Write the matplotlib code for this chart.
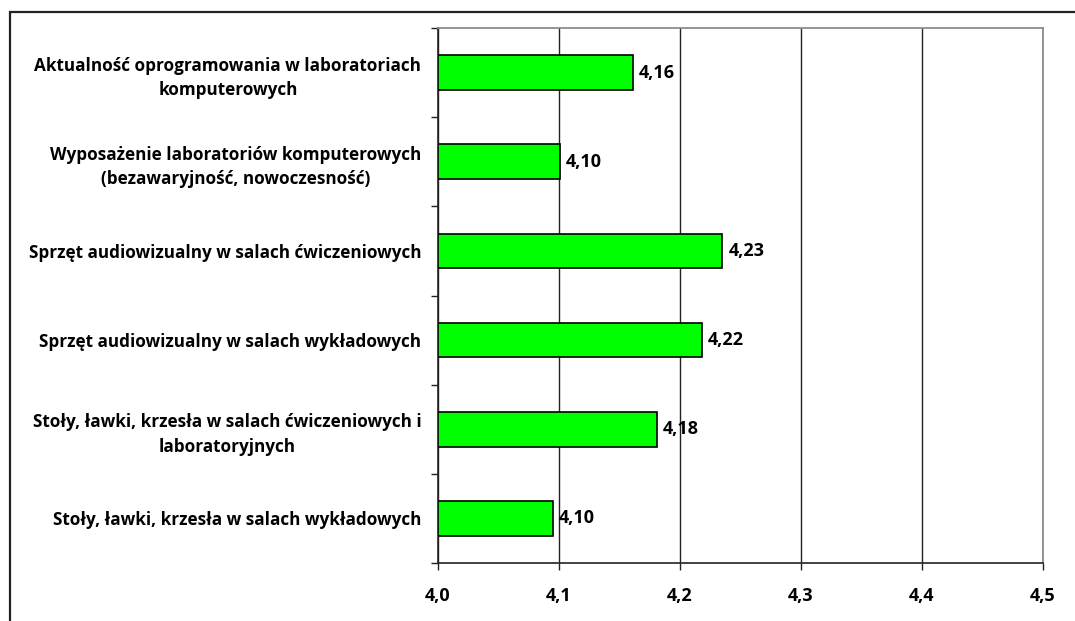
import matplotlib
matplotlib.use('Agg')
import matplotlib.pyplot as plt
from matplotlib.patches import Rectangle

# Categories listed top to bottom as in the chart
categories = [
    'Aktualność oprogramowania w laboratoriach\nkomputerowych',
    'Wyposażenie laboratoriów komputerowych\n(bezawaryjność, nowoczesność)',
    'Sprzęt audiowizualny w salach ćwiczeniowych',
    'Sprzęt audiowizualny w salach wykładowych',
    'Stoły, ławki, krzesła w salach ćwiczeniowych i\nlaboratoryjnych',
    'Stoły, ławki, krzesła w salach wykładowych',
]
values = [4.161, 4.101, 4.235, 4.218, 4.181, 4.095]
value_labels = ['4,16', '4,10', '4,23', '4,22', '4,18', '4,10']
x_ticks = [4.0, 4.1, 4.2, 4.3, 4.4, 4.5]
x_tick_labels = ['4,0', '4,1', '4,2', '4,3', '4,4', '4,5']

plt.rcParams['font.family'] = ['Open Sans', 'DejaVu Sans']
plt.rcParams['font.weight'] = 'bold'
FS_CAT = 12.3
FS_VAL = 13

fig = plt.figure(figsize=(10.75, 6.21), dpi=100)
ax = fig.add_axes([0.4074, 0.0934, 0.5628, 0.8615])

n = len(categories)
pos = list(range(n))[::-1]
base = x_ticks[0]
ax.barh(pos, [v - base for v in values], left=base, height=0.39,
        color='#00FF00', edgecolor='black', linewidth=1.2, zorder=3)

for p, v, lab in zip(pos, values, value_labels):
    ax.text(v + 0.005, p, lab, va='center', ha='left', fontsize=FS_VAL,
            fontweight='bold', color='black', zorder=4)

ax.set_xlim(x_ticks[0], x_ticks[-1])
ax.set_ylim(-0.5, n - 0.5)
ax.set_xticks(x_ticks)
ax.set_xticklabels(x_tick_labels, fontsize=FS_VAL, fontweight='bold')
ax.tick_params(axis='x', direction='out', length=5, width=1, pad=12,
               colors='#222222', labelcolor='black')
ax.xaxis.grid(True, color='#222222', linewidth=1)
ax.set_axisbelow(True)

# Category ticks sit on the boundaries, labels sit at the bar centres
ax.set_yticks([p - 0.5 for p in range(n + 1)], minor=False)
ax.set_yticklabels([])
ax.tick_params(axis='y', which='major', direction='out', length=5, width=1, colors='#222222')
ax.set_yticks(pos, minor=True)
ax.set_yticklabels(categories, minor=True, fontsize=FS_CAT, fontweight='bold',
                   ha='right', multialignment='center')
ax.tick_params(axis='y', which='minor', length=0, pad=12, labelcolor='black')
for t in ax.get_yticklabels(minor=True):
    t.set_linespacing(1.45)

for s in ['top', 'right']:
    ax.spines[s].set_color('#8c8c8c')
    ax.spines[s].set_linewidth(1.3)
for s in ['left', 'bottom']:
    ax.spines[s].set_color('#222222')
    ax.spines[s].set_linewidth(1.2)

# Outer frame, clipped by the image edge on the right and bottom
top = 1 - 12 / 621
fig.patches.append(Rectangle((10 / 1075, -0.2), 1.2, top + 0.2,
                             transform=fig.transFigure, fill=False,
                             edgecolor='#222222', linewidth=1.6))

fig.savefig('out.png', dpi=100)
